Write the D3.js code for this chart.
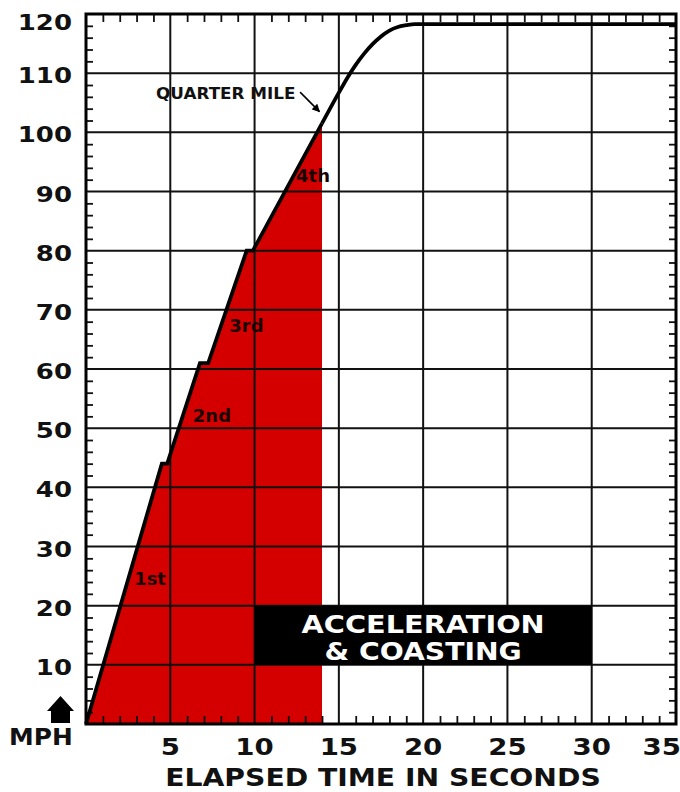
<!DOCTYPE html>
<html>
<head>
<meta charset="utf-8">
<script src="https://cdn.jsdelivr.net/npm/d3@7"></script>
<style>
body{margin:0;background:#fff}
svg{display:block}
text{font-family:"DejaVu Sans",sans-serif;font-weight:bold;fill:#111}
</style>
</head>
<body>
<div id="chart"></div>
<script>
// speed (mph) against elapsed time (s)
// gear run: straight pulls with a short flat step at every shift
var gearTime = [0, 4.5, 4.82, 6.76, 7.25, 9.53, 9.9, 14];
var gearMph  = [0, 44, 44, 61, 61, 80, 80, 101.5];
// after the quarter mile the car keeps pulling then levels off
var coastTime = [14, 15, 15.5, 16, 16.5, 17, 17.5, 18, 18.5, 19, 19.5, 35];
var coastMph  = [101.5, 106.7, 109.2, 111.4, 113.3, 114.9, 116.2, 117.2, 117.8, 118.1, 118.3, 118.3];

var gearLabels    = ["1st", "2nd", "3rd", "4th"];
var gearLabelTime = [3.8, 7.47, 9.52, 13.47];
var gearLabelMph  = [23.5, 51, 66.2, 91.6];

var quarterMileTime = 14;   // red area stops here
var boxTime = [10, 30];
var boxMph = [10, 20];

var xTicks = [5, 10, 15, 20, 25, 30, 35];
var yTicks = [10, 20, 30, 40, 50, 60, 70, 80, 90, 100, 110, 120];

var W = 680, H = 792;
var mm = [14, 4, 68, 86]; //top right bottom left

var svg = d3.select("#chart").append("svg")
    .attr("width", W)
    .attr("height", H);

var x = d3.scaleLinear().domain([0, 35]).range([mm[3], W - mm[1]]);
var y = d3.scaleLinear().domain([0, 120]).range([H - mm[2], mm[0]]);

var gear = gearTime.map(function(t, i){ return [t, gearMph[i]]; });
var coast = coastTime.map(function(t, i){ return [t, coastMph[i]]; });

// stretch text sideways, the original lettering is wide
function widen(sel, k){
    sel.each(function(){
        var w = this.getComputedTextLength();
        d3.select(this).attr("textLength", w * k).attr("lengthAdjust", "spacingAndGlyphs");
    });
}

//------- red area up to the quarter mile ----------
var area = d3.area()
    .x(function(d){ return x(d[0]); })
    .y0(y(0))
    .y1(function(d){ return y(d[1]); });
svg.append("path")
    .datum(gear.filter(function(d){ return d[0] <= quarterMileTime; }))
    .attr("d", area)
    .attr("fill", "#d40000");

//------- grid ----------
var grid = svg.append("g").attr("stroke", "#111").attr("stroke-width", 2);
grid.selectAll("line.gx")
    .data(xTicks)
    .enter().append("line")
    .attr("x1", function(d){ return x(d); })
    .attr("x2", function(d){ return x(d); })
    .attr("y1", y(0))
    .attr("y2", y(120));
grid.selectAll("line.gy")
    .data(yTicks)
    .enter().append("line")
    .attr("x1", x(0))
    .attr("x2", x(35))
    .attr("y1", function(d){ return y(d); })
    .attr("y2", function(d){ return y(d); });

//------- minor ticks on all four sides ----------
var minorX = d3.range(1, 35).filter(function(d){ return d % 5 != 0; });
var minorY = d3.range(2, 120, 2).filter(function(d){ return d % 10 != 0; });
function styleAxis(g){
    g.select(".domain").remove();
    g.selectAll("line").attr("stroke", "#111").attr("stroke-width", 1.8);
    g.selectAll("text").remove();
}
svg.append("g").attr("transform", "translate(0," + y(0) + ")")
    .call(d3.axisBottom(x).tickValues(minorX).tickSize(-8)).call(styleAxis);
svg.append("g").attr("transform", "translate(0," + y(120) + ")")
    .call(d3.axisTop(x).tickValues(minorX).tickSize(-8)).call(styleAxis);
svg.append("g").attr("transform", "translate(" + x(0) + ",0)")
    .call(d3.axisLeft(y).tickValues(minorY).tickSize(-7)).call(styleAxis);
svg.append("g").attr("transform", "translate(" + x(35) + ",0)")
    .call(d3.axisRight(y).tickValues(minorY).tickSize(-7)).call(styleAxis);

//------- black caption box ----------
svg.append("rect")
    .attr("x", x(boxTime[0]))
    .attr("y", y(boxMph[1]))
    .attr("width", x(boxTime[1]) - x(boxTime[0]))
    .attr("height", y(boxMph[0]) - y(boxMph[1]))
    .attr("fill", "#000");
var boxCx = (x(boxTime[0]) + x(boxTime[1])) / 2;
var cap = svg.append("g").attr("text-anchor", "middle").style("font-size", "25px");
cap.append("text").attr("x", boxCx).attr("y", y(boxMph[1]) + 27)
    .style("fill", "#fff").text("ACCELERATION").call(widen, 1.15);
cap.append("text").attr("x", boxCx).attr("y", y(boxMph[1]) + 54)
    .style("fill", "#fff").text("& COASTING").call(widen, 1.13);

//------- speed curve ----------
var line = d3.line()
    .x(function(d){ return x(d[0]); })
    .y(function(d){ return y(d[1]); });
svg.append("path")
    .datum(gear)
    .attr("d", line)
    .attr("fill", "none")
    .attr("stroke", "#000")
    .attr("stroke-width", 3.8);
svg.append("path")
    .datum(coast)
    .attr("d", line.curve(d3.curveMonotoneX))
    .attr("fill", "none")
    .attr("stroke", "#000")
    .attr("stroke-width", 3.8);

//------- frame ----------
svg.append("rect")
    .attr("x", x(0))
    .attr("y", y(120))
    .attr("width", x(35) - x(0))
    .attr("height", y(0) - y(120))
    .attr("fill", "none")
    .attr("stroke", "#000")
    .attr("stroke-width", 3);

//------- gear labels ----------
svg.selectAll("text.gear")
    .data(gearLabels)
    .enter().append("text")
    .attr("class", "gear")
    .attr("x", function(d, i){ return x(gearLabelTime[i]); })
    .attr("y", function(d, i){ return y(gearLabelMph[i]); })
    .attr("text-anchor", "middle")
    .style("font-size", "18px")
    .style("fill", "#1a0000")
    .text(function(d){ return d; });

//------- quarter mile note ----------
svg.append("defs").append("marker")
    .attr("id", "tip")
    .attr("viewBox", "0 0 10 10")
    .attr("refX", 9).attr("refY", 5)
    .attr("markerWidth", 5).attr("markerHeight", 5)
    .attr("orient", "auto")
    .append("path").attr("d", "M0,0L10,5L0,10Z").attr("fill", "#000");
svg.append("text")
    .attr("x", x(12.43))
    .attr("y", y(105.6))
    .attr("text-anchor", "end")
    .style("font-size", "15px")
    .text("QUARTER MILE").call(widen, 1.12);
svg.append("line")
    .attr("x1", x(12.7)).attr("y1", y(106.8))
    .attr("x2", x(13.85)).attr("y2", y(103.5))
    .attr("stroke", "#000")
    .attr("stroke-width", 1.6)
    .attr("marker-end", "url(#tip)");

//------- axis labels ----------
svg.selectAll("text.yl")
    .data(yTicks)
    .enter().append("text")
    .attr("class", "yl")
    .attr("x", x(0) - 14)
    .attr("y", function(d){ return Math.max(y(d) + 10, 30); })
    .attr("text-anchor", "end")
    .style("font-size", "22px")
    .text(function(d){ return d; })
    .call(widen, 1.18);

svg.selectAll("text.xl")
    .data(xTicks)
    .enter().append("text")
    .attr("class", "xl")
    .attr("x", function(d, i){ return i == xTicks.length - 1 ? W + 1 : x(d); })
    .attr("y", y(0) + 31)
    .attr("text-anchor", function(d, i){ return i == xTicks.length - 1 ? "end" : "middle"; })
    .style("font-size", "23px")
    .text(function(d){ return d; })
    .call(widen, 1.2);

svg.append("text")
    .attr("x", 383)
    .attr("y", H - 6)
    .attr("text-anchor", "middle")
    .style("font-size", "25px")
    .text("ELAPSED TIME IN SECONDS")
    .call(widen, 1.13);

// MPH with the little up arrow, bottom left
svg.append("path")
    .attr("d", "M60.5,696L74,711L70,711L70,723L51,723L51,711L47,711Z")
    .attr("fill", "#000");
svg.append("text")
    .attr("x", 41)
    .attr("y", 745)
    .attr("text-anchor", "middle")
    .style("font-size", "23px")
    .text("MPH")
    .call(widen, 1.08);
</script>
</body>
</html>
